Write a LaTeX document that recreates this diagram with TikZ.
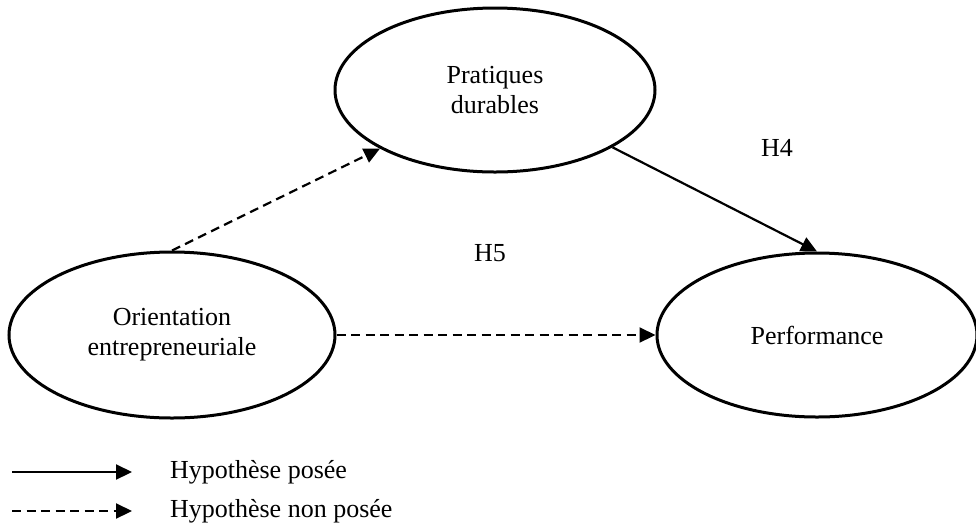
\documentclass[tikz,border=0pt]{standalone}
\usepackage{fontspec}
\setmainfont{Liberation Serif}
\usepackage{tikz}
\usetikzlibrary{shapes, arrows.meta, positioning}

\begin{document}
\begin{tikzpicture}[x=0.5pt, y=-0.5pt,
	var/.style={ellipse, draw, line width=1.5pt, inner sep=0pt, minimum width=160pt, minimum height=82pt, align=center, font=\fontsize{13}{15}\selectfont},
	lab/.style={font=\fontsize{13}{15}\selectfont},
	fleche/.style={line width=1.1pt, -{Triangle[length=8pt, width=7.5pt]}},
	pointille/.style={dash pattern=on 4.5pt off 2.75pt}]
	\useasboundingbox (0,0) rectangle (976,527);
	
	% 三个变量
	\node[var] (prat) at (495,90) {Pratiques\\durables};
	\node[var, minimum width=163pt, minimum height=83pt] (orient) at (172,335) {Orientation\\entrepreneuriale};
	\node[var] (perf) at (817,335) {Performance};
	
	% 假设关系
	\draw[fleche, pointille] (orient.north) -- (prat.207);
	\draw[fleche] (prat.334) -- (perf.north);
	\draw[fleche, pointille] (orient.east) -- (perf.west);
	
	\node[lab] (h4) at (777,148) {H4};
	\node[lab] (h5) at (490,253) {H5};
	
	% 图例
	\coordinate (s1) at (12,472);
	\coordinate (s2) at (132,472);
	\coordinate (d1) at (12,511);
	\coordinate (d2) at (132,511);
	\draw[fleche] (s1) -- (s2);
	\draw[fleche, pointille] (d1) -- (d2);
	\node[lab, anchor=west] (leg1) at (163,472) {Hypothèse posée};
	\node[lab, anchor=west] (leg2) at (163,511) {Hypothèse non posée};
\end{tikzpicture}
\end{document}
